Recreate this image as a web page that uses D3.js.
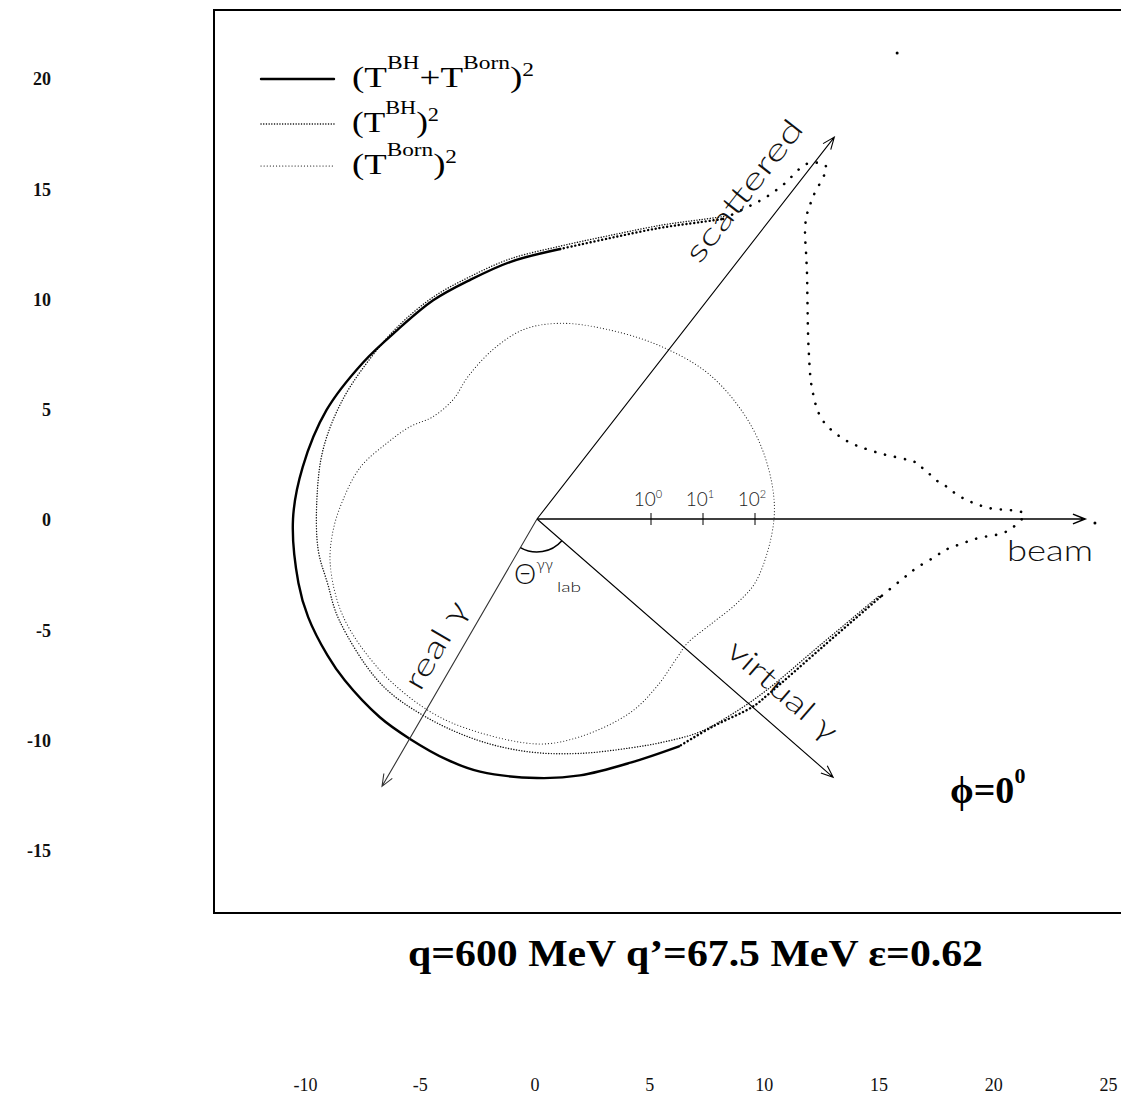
<!DOCTYPE html>
<html>
<head>
<meta charset="utf-8">
<script src="https://cdn.jsdelivr.net/npm/d3@7"></script>
<style>
  body { margin: 0; background: #fff; }
  svg { display: block; }
</style>
</head>
<body>
<svg id="chart" width="1121" height="1104"></svg>
<script>
// ---- outer frame tick labels ----
const yTickValues = [20, 15, 10, 5, 0, -5, -10, -15];
const xTickValues = [-10, -5, 0, 5, 10, 15, 20, 25];

// ---- radial (log) decades marked along the beam axis ----
const radialTicks = [1, 10, 100];
const radialTickExponents = ["0", "1", "2"];

// ---- kinematic directions, degrees clockwise from the beam ----
const directionNames = ["beam", "scattered", "virtual γ", "real γ"];
const directionAngles = [0, -52.1, 41.1, 120.1];

// ---- (T^BH + T^Born)^2 : photon angle (deg) / cross section ----
const sumAngles = [-167.5, -152.6, -138, -126.5, -115.4, -105.7, -96, -85.1, -75.4, -67.1,
  -61.2, -58.2, -55.6, -54.5, -53.6, -52.7,
  -50.7, -49.4, -48.3, -47, -44.6, -42.1, -39, -31.9, -25.1, -19.2,
  -14.4, -11.2, -8.2, -7.2, -6.4, -5.3, -4.5, -3.4, -2.4, -1.4,
  -0.6, 1.5, 2.5, 3.4, 4.3, 5.5, 7.3, 9.2, 12.8, 24.1,
  37.3, 41, 49.8, 58, 69, 80.5, 90, 102.7, 110.5, 120,
  128.4, 140, 147, 156.8, 165, 180];
const sumValues = [265, 232, 203, 212, 290, 381, 598, 1045, 2460, 7670,
  21000, 39500, 136000, 265000, 642000, 2.53e6,
  3.78e6, 916000, 395000, 232000, 119000, 64200, 31600, 9160, 4510, 4120,
  8380, 27700, 170000, 203000, 265000, 361000, 515000, 767000, 1.3e6, 3.16e6,
  1.49e7, 7.02e6, 1.94e6, 916000, 492000, 303000, 149000, 87500, 37800, 6710,
  2430, 2030, 1090, 916, 671, 642, 614, 614, 562, 492,
  471, 431, 412, 394, 361, 316];
// isolated samples right on the two lepton peaks
const sumPeakAngles = [-52.3, 0.4];
const sumPeakValues = [1.36e9, 3.45e8];

// ---- (T^BH)^2 (around the lepton peaks it coincides with the full result) ----
const bhAngles = [-175, -162, -148.5, -135, -125, -115, -105.7, -96, -85.1, -75.4,
  -67.1, -61.2, -58.2, 12.8, 24, 37,
  45, 52.6, 60, 68, 80, 92, 105, 120, 133.7, 153,
  163, 172];
const bhValues = [114, 136, 156, 186, 243, 331, 435, 683, 1190, 2800,
  8750, 24000, 45100, 34500, 5880, 2030,
  1300, 916, 562, 361, 243, 194, 163, 149, 149, 120,
  105, 114];

// ---- (T^Born)^2 ----
const bornAngles = [-174.4, -163.6, -153, -144, -135.6, -125, -116, -104.6, -94, -83.3,
  -70, -55, -40, -25, -12, 0, 15.5, 22.8, 30.6, 39.6,
  44.6, 54.5, 64.4, 78.8, 90, 109.6, 121, 136, 153, 167,
  176];
const bornValues = [36.1, 22.2, 10.9, 6.71, 4.12, 4.12, 7.02, 14.9, 28.9, 39.5,
  49.2, 76.7, 136, 194, 232, 232, 156, 95.7, 53.8, 36.1,
  39.5, 58.8, 87.5, 119, 136, 114, 109, 100, 95.7, 76.7,
  56.2];

// ---- legend entries: [text, 0 = normal, 1 = superscript label, 2 = exponent] ----
const legendLabels = [
  [["(T", 0], ["BH", 1], ["+T", 0], ["Born", 1], [")", 0], ["2", 2]],
  [["(T", 0], ["BH", 1], [")", 0], ["2", 2]],
  [["(T", 0], ["Born", 1], [")", 0], ["2", 2]]
];

const svg = d3.select("#chart");
const cx = 537, cy = 519;
const SERIF = "'Liberation Serif', 'Times New Roman', serif";
const SANS = "Lato, 'Open Sans', 'DejaVu Sans', sans-serif";

// radial log scale of the polar diagram
const rScale = d3.scaleLog().domain([1, 100]).range([114, 218]);
const rad = d => d * Math.PI / 180;
const px = (a, v) => cx + rScale(v) * Math.cos(rad(a));
const py = (a, v) => cy + rScale(v) * Math.sin(rad(a));

// outer frame label scales
const yScale = d3.scaleLinear().domain([20, -15]).range([79, 851]);
const xScale = d3.scaleLinear().domain([-10, 25]).range([305, 1108]);

// ---- frame (open on the right) ----
svg.append("path")
  .attr("d", "M1123,10H214V913H1123")
  .attr("fill", "none").attr("stroke", "#000").attr("stroke-width", 2);

// ---- outer tick labels ----
const yAxis = d3.axisLeft(yScale).tickValues(yTickValues).tickFormat(d => String(d))
  .tickSize(0).tickPadding(0);
svg.append("g").attr("transform", "translate(51,0)").call(yAxis)
  .call(g => g.select(".domain").remove())
  .selectAll("text").attr("font-family", SERIF).attr("font-size", 18)
  .attr("font-weight", "bold").attr("fill", "#111");

const xAxis = d3.axisBottom(xScale).tickValues(xTickValues).tickFormat(d => String(d))
  .tickSize(0).tickPadding(0);
svg.append("g").attr("transform", "translate(0,1078)").call(xAxis)
  .call(g => g.select(".domain").remove())
  .selectAll("text").attr("font-family", SERIF).attr("font-size", 18).attr("fill", "#111");

// ---- curves ----
const lineGen = d3.line().x(d => px(d[0], d[1])).y(d => py(d[0], d[1]))
  .curve(d3.curveCatmullRom.alpha(0.5));
const closedGen = d3.line().x(d => px(d[0], d[1])).y(d => py(d[0], d[1]))
  .curve(d3.curveCatmullRomClosed.alpha(0.5));

function pairs(angles, values) { return angles.map((a, i) => [a, values[i]]); }
// points between lo and hi (deg) walking clockwise; lo > hi wraps through 180
function segment(data, lo, hi) {
  if (lo <= hi) return data.filter(d => d[0] >= lo && d[0] <= hi);
  return data.filter(d => d[0] >= lo).concat(data.filter(d => d[0] <= hi));
}

const sumData = pairs(sumAngles, sumValues);
const bhData = pairs(bhAngles, bhValues);
const bornData = pairs(bornAngles, bornValues);

const curves = svg.append("g").attr("fill", "none").attr("stroke", "#000").attr("stroke-linecap", "round");

// Born term: fine dots
curves.append("path").attr("d", closedGen(bornData))
  .attr("stroke-width", 1.1).attr("stroke-dasharray", "0.1 3").attr("stroke", "#222");

// Bethe-Heitler term: denser dots, drawn where it separates from the full result
curves.append("path").attr("d", lineGen(segment(bhData, 12.8, -58.2)))
  .attr("stroke-width", 1.4).attr("stroke-dasharray", "0.1 2.6").attr("stroke", "#111");

// full amplitude: solid where sampling is dense, dotted towards the lepton peaks
curves.append("path").attr("d", lineGen(segment(sumData, 55, -85.1)))
  .attr("stroke-width", 2.4);
curves.append("path").attr("d", lineGen(segment(sumData, 12.8, 58)))
  .attr("stroke-width", 2.4).attr("stroke-dasharray", "0.1 3.8");
curves.append("path").attr("d", lineGen(segment(sumData, -85.1, -58.2)))
  .attr("stroke-width", 2.4).attr("stroke-dasharray", "0.1 3.8");
curves.append("path").attr("d", lineGen(segment(sumData, -58.2, 12.8)))
  .attr("stroke-width", 2.6).attr("stroke-dasharray", "0.1 10");
svg.append("g").selectAll("circle").data(pairs(sumPeakAngles, sumPeakValues)).join("circle")
  .attr("cx", d => px(d[0], d[1])).attr("cy", d => py(d[0], d[1])).attr("r", 1.5).attr("fill", "#000");

// ---- direction arrows ----
const arrowLen = { "beam": 548, "scattered": 484, "virtual γ": 393, "real γ": 309 };
const arrows = svg.append("g").attr("fill", "none").attr("stroke", "#000");
directionNames.forEach((name, i) => {
  const a = rad(directionAngles[i]);
  const L = arrowLen[name];
  const tx = cx + L * Math.cos(a), ty = cy + L * Math.sin(a);
  const head = 13, spread = rad(22);
  const p = d3.path();
  p.moveTo(cx, cy); p.lineTo(tx, ty);
  p.moveTo(tx - head * Math.cos(a - spread), ty - head * Math.sin(a - spread));
  p.lineTo(tx, ty);
  p.lineTo(tx - head * Math.cos(a + spread), ty - head * Math.sin(a + spread));
  arrows.append("path").attr("d", p.toString())
    .attr("stroke-width", name === "beam" ? 1.6 : 1.1)
    .attr("stroke", name === "real γ" ? "#333" : "#000");
});

// opening angle between the two photons
const arcPath = d3.path();
arcPath.arc(cx, cy, 33, rad(directionAngles[2]), rad(directionAngles[3]));
svg.append("path").attr("d", arcPath.toString()).attr("fill", "none")
  .attr("stroke", "#000").attr("stroke-width", 1.5);

// ---- direction labels, written along their arrows ----
const labelSpec = {
  "scattered": { along: 386, off: 28, len: 172, rot: directionAngles[1] },
  "virtual γ": { along: 298, off: 22, len: 136, rot: directionAngles[2] },
  "real γ": { along: 160, off: 14, len: 97, rot: directionAngles[3] - 180 }
};
Object.keys(labelSpec).forEach(name => {
  const s = labelSpec[name];
  const a = rad(directionAngles[directionNames.indexOf(name)]);
  const r = rad(s.rot);
  const nx = Math.sin(r), ny = -Math.cos(r);
  const x = cx + s.along * Math.cos(a) + s.off * nx;
  const y = cy + s.along * Math.sin(a) + s.off * ny;
  svg.append("text")
    .attr("transform", `translate(${x},${y}) rotate(${s.rot})`)
    .attr("text-anchor", "middle")
    .attr("font-family", SANS).attr("font-weight", 300).attr("font-size", 30)
    .attr("textLength", s.len).attr("lengthAdjust", "spacingAndGlyphs")
    .attr("fill", "#111").text(name);
});
svg.append("text").attr("x", 1007).attr("y", 561)
  .attr("font-family", SANS).attr("font-weight", 300).attr("font-size", 30)
  .attr("textLength", 86).attr("lengthAdjust", "spacingAndGlyphs").attr("fill", "#111").text("beam");

// theta label
const th = svg.append("text").attr("x", 514).attr("y", 584)
  .attr("font-family", SANS).attr("font-weight", 300).attr("font-size", 28).attr("fill", "#111");
th.append("tspan").text("Θ");
th.append("tspan").attr("font-size", 16).attr("dy", -14).text("γγ");
svg.append("text").attr("x", 557).attr("y", 592)
  .attr("font-family", SANS).attr("font-weight", 300).attr("font-size", 14)
  .attr("textLength", 24).attr("lengthAdjust", "spacingAndGlyphs").attr("fill", "#111").text("lab");

// ---- radial decade ticks on the beam axis ----
const rt = svg.append("g");
radialTicks.forEach((v, i) => {
  const x = cx + rScale(v);
  rt.append("line").attr("x1", x).attr("x2", x).attr("y1", cy - 6).attr("y2", cy + 6)
    .attr("stroke", "#000").attr("stroke-width", 1);
  const t = rt.append("text").attr("x", x - 3).attr("y", 506).attr("text-anchor", "middle")
    .attr("font-family", SANS).attr("font-weight", 300).attr("font-size", 19).attr("fill", "#222");
  t.append("tspan").text("10");
  t.append("tspan").attr("font-size", 11).attr("dy", -8).text(radialTickExponents[i]);
});

// ---- legend ----
const legend = svg.append("g");
const legendY = [79, 124, 166];
const legendTextLen = [182, 87, 105];
const legendStyles = [
  { w: 2.4, dash: null },
  { w: 1.4, dash: "0.1 2.6" },
  { w: 1.1, dash: "0.1 3" }
];
legendLabels.forEach((parts, i) => {
  legend.append("line").attr("x1", 261).attr("x2", 334).attr("y1", legendY[i]).attr("y2", legendY[i])
    .attr("stroke", "#000").attr("stroke-width", legendStyles[i].w)
    .attr("stroke-linecap", "round")
    .attr("stroke-dasharray", legendStyles[i].dash);
  const t = legend.append("text").attr("x", 352).attr("y", legendY[i] + 8)
    .attr("font-family", SERIF).attr("font-size", 30).attr("fill", "#000")
    .attr("textLength", legendTextLen[i]).attr("lengthAdjust", "spacingAndGlyphs");
  let lift = 0;
  parts.forEach(([s, kind]) => {
    const target = kind === 1 ? -18 : kind === 2 ? -11 : 0;
    t.append("tspan").attr("dy", target - lift).attr("font-size", kind ? 19 : 30).text(s);
    lift = target;
  });
});

// ---- annotations ----
const phi = svg.append("text").attr("x", 950).attr("y", 803)
  .attr("font-family", SERIF).attr("font-size", 38).attr("font-weight", "bold").attr("fill", "#000");
phi.append("tspan").text("ϕ=0");
phi.append("tspan").attr("font-size", 22).attr("dy", -20).text("0");

svg.append("text").attr("x", 408).attr("y", 966)
  .attr("font-family", SERIF).attr("font-size", 37).attr("font-weight", "bold").attr("fill", "#000")
  .attr("textLength", 575).attr("lengthAdjust", "spacingAndGlyphs")
  .text("q=600 MeV q’=67.5 MeV ε=0.62");
</script>
</body>
</html>
